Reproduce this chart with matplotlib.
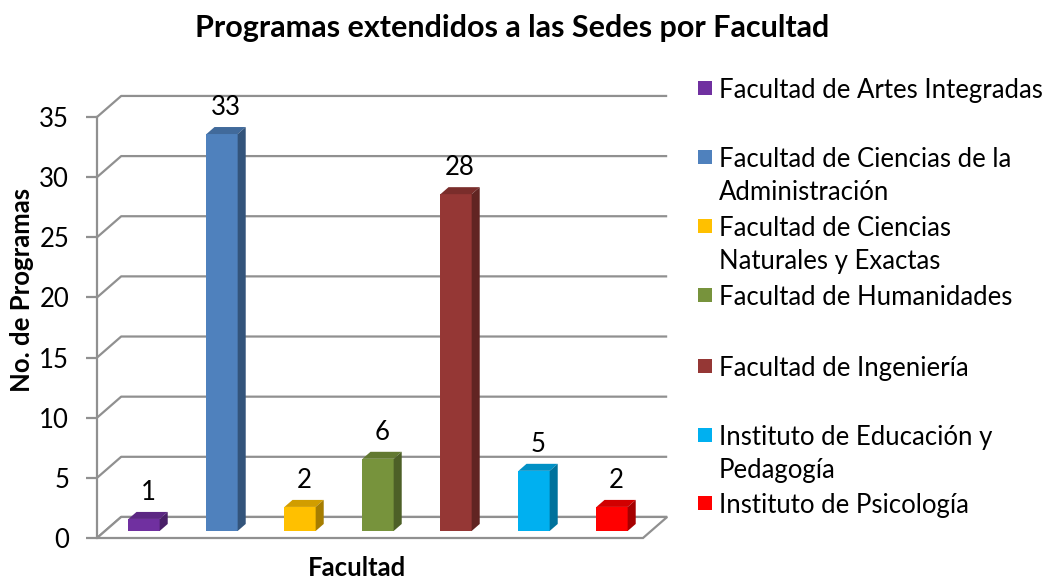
import numpy as np
import matplotlib
matplotlib.use('Agg')
import matplotlib.pyplot as plt
from matplotlib.patches import Polygon, Rectangle
from matplotlib.colors import to_rgb

plt.rcParams['font.family'] = ['Lato', 'DejaVu Sans']

facultades = ['Facultad de Artes Integradas',
              'Facultad de Ciencias de la\nAdministración',
              'Facultad de Ciencias\nNaturales y Exactas',
              'Facultad de Humanidades',
              'Facultad de Ingeniería',
              'Instituto de Educación y\nPedagogía',
              'Instituto de Psicología']
programas = [1, 33, 2, 6, 28, 5, 2]
colores = ['#7030A0', '#4F81BD', '#FFC000', '#77933C', '#953735', '#00B0F0', '#FF0000']
yticks = [0, 5, 10, 15, 20, 25, 30, 35]


def shade(c, k):
	r, g, b = to_rgb(c)
	return (r * k, g * k, b * k)


W, H = 1044, 579
fig = plt.figure(figsize=(W / 100, H / 100), dpi=100)
ax = fig.add_axes([97 / W, (H - 538) / H, 546 / W, 421 / H])
ax.set_xlim(-0.5, 6.5)
ax.set_ylim(0, 35)
for s in ax.spines.values():
	s.set_visible(False)

grid = '#909090'
fs = 18.5
# full depth of the 3d box in data units
dx, dy = 0.31, 1.75

# back wall and side wall gridlines
for v in yticks:
	ax.plot([-0.5, -0.5 + dx, 6.5 + dx], [v, v + dy, v + dy], color=grid, lw=1.6,
		clip_on=False, zorder=1, solid_capstyle='butt')
# floor
ax.add_patch(Polygon([(-0.5, 0), (6.5, 0), (6.5 + dx, dy), (-0.5 + dx, dy)], closed=True,
	facecolor='white', edgecolor=grid, lw=1.6, clip_on=False, zorder=1.5))
# front vertical axis
ax.plot([-0.5, -0.5], [0, 35], color=grid, lw=1.6, clip_on=False, zorder=2)

ax.set_yticks(yticks)
ax.set_xticks([])
ax.tick_params(axis='y', length=8, width=1.6, color=grid, pad=12, labelsize=fs)

# bars with fake depth
w = 0.4
fx, fy = dx / 3, dy / 3
bx, by = dx / 3, dy / 3
xs = np.arange(len(programas))
ax.bar(xs + fx, programas, bottom=fy, width=w, color=colores, zorder=3, clip_on=False)
for i, v in enumerate(programas):
	x0 = i + fx - w / 2
	x1 = x0 + w
	top = v + fy
	ax.add_patch(Polygon([(x0, top), (x1, top), (x1 + bx, top + by), (x0 + bx, top + by)],
		closed=True, facecolor=shade(colores[i], 0.82), edgecolor='none', zorder=3, clip_on=False))
	ax.add_patch(Polygon([(x1, fy), (x1 + bx, fy + by), (x1 + bx, top + by), (x1, top)],
		closed=True, facecolor=shade(colores[i], 0.65), edgecolor='none', zorder=3, clip_on=False))
	ax.annotate(str(v), (i + fx + bx / 2, top + by), xytext=(0, 5), textcoords='offset points',
		ha='center', va='bottom', fontsize=fs, color='black', annotation_clip=False)

fig.text(512 / W, 1 - 28 / H, 'Programas extendidos a las Sedes por Facultad',
	ha='center', va='center', fontsize=22, fontweight='bold')
fig.text(22 / W, 1 - 290 / H, 'No. de Programas', rotation=90, ha='center', va='center',
	fontsize=18.5, fontweight='bold')
fig.text(357 / W, 1 - 568 / H, 'Facultad', ha='center', va='center', fontsize=18.5,
	fontweight='bold')

# legend
leg_y = [88, 157, 226, 295, 366, 435, 503]
for i, lab in enumerate(facultades):
	yy = 1 - leg_y[i] / H
	fig.patches.append(Rectangle((698 / W, yy - 7 / H), 14 / W, 14 / H, transform=fig.transFigure,
		facecolor=colores[i], edgecolor='none'))
	for k, linea in enumerate(lab.split('\n')):
		fig.text(719 / W, yy - k * 33 / H, linea, ha='left', va='center_baseline', fontsize=fs)

fig.savefig('out.png', dpi=100)
